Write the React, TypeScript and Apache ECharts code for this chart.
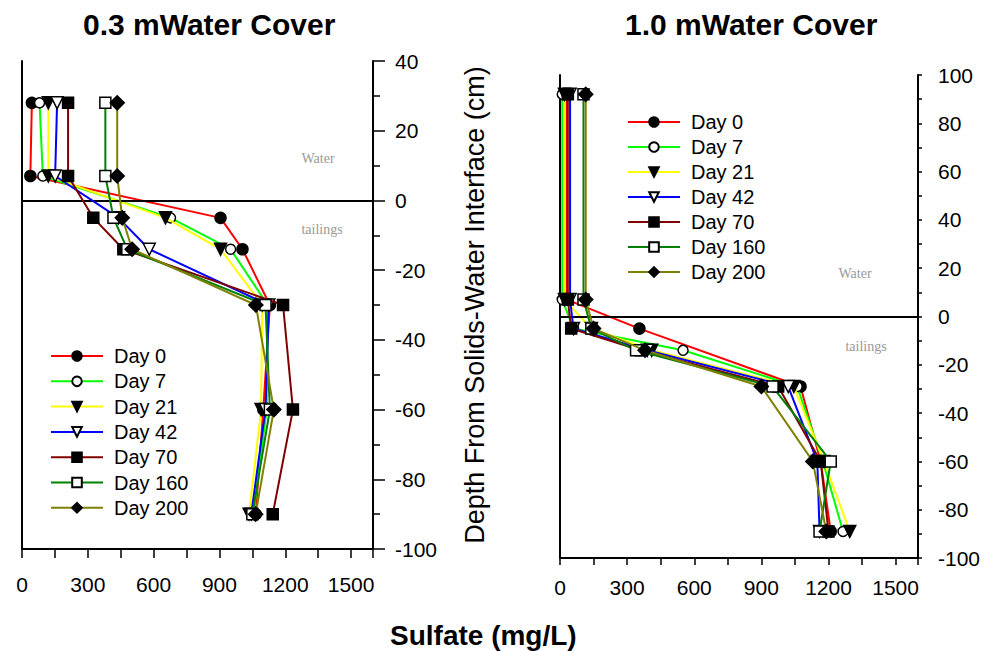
import React, { useEffect, useRef } from "react";
import * as echarts from "echarts";

const DAYS = ["Day 0", "Day 7", "Day 21", "Day 42", "Day 70", "Day 160", "Day 200"];
const COLORS = ["#ff0000", "#00ff00", "#ffff00", "#0000ff", "#800000", "#008000", "#808000"];
const SHAPES = ["circle", "circle", "triangle", "triangle", "rect", "rect", "diamond"];
const FILLED = [true, false, true, false, true, false, true];
const ROTATE = [0, 0, 180, 180, 0, 0, 0];
const SIZES = [11, 10, 12, 12, 11, 11, 14];

// 0.3 m water cover: depth (cm) and sulfate (mg/L)
const LEFT_DEPTHS = [28, 7, -5, -14, -30, -60, -90];
const LEFT_DAY0 = [45, 38, 905, 1005, 1130, 1100, 1065];
const LEFT_DAY7 = [80, 95, 677, 951, 1120, 1115, 1055];
const LEFT_DAY21 = [120, 120, 654, 905, 1095, 1090, 1035];
const LEFT_DAY42 = [160, 151, 440, 580, 1125, 1110, 1045];
const LEFT_DAY70 = [210, 210, 325, 462, 1190, 1235, 1143];
const LEFT_DAY160 = [380, 380, 417, 480, 1110, 1130, 1050];
const LEFT_DAY200 = [434, 434, 457, 502, 1066, 1148, 1065];

// 1.0 m water cover
const RIGHT_DEPTHS = [92, 7, -5, -14, -29, -60, -89];
const RIGHT_DAY0 = [30, 30, 355, null, 1075, 1165, 1210];
const RIGHT_DAY7 = [10, 10, 60, 550, 1060, 1175, 1265];
const RIGHT_DAY21 = [20, 20, 140, 410, 1045, 1180, 1295];
const RIGHT_DAY42 = [45, 45, 60, 390, 1020, 1150, 1160];
const RIGHT_DAY70 = [35, 35, 50, 360, 975, 1165, 1200];
const RIGHT_DAY160 = [105, 105, 140, 340, 950, 1210, 1160];
const RIGHT_DAY200 = [115, 115, 150, 380, 900, 1130, 1190];

const LEFT_VALUES = [LEFT_DAY0, LEFT_DAY7, LEFT_DAY21, LEFT_DAY42, LEFT_DAY70, LEFT_DAY160, LEFT_DAY200];
const RIGHT_VALUES = [RIGHT_DAY0, RIGHT_DAY7, RIGHT_DAY21, RIGHT_DAY42, RIGHT_DAY70, RIGHT_DAY160, RIGHT_DAY200];

const X_LABELS = [0, 300, 600, 900, 1200, 1500];

const FONT = "Arial, 'Liberation Sans', Helvetica, sans-serif";

function pairs(values: (number | null)[], depths: number[]) {
  const out: number[][] = [];
  values.forEach((v, i) => {
    if (v !== null && v !== undefined) out.push([v, depths[i]]);
  });
  return out;
}

function makeSeries(values: (number | null)[][], depths: number[], xIdx: number, yIdx: number) {
  return values.map((vals, i) => {
    const s: any = {
      type: "line",
      name: DAYS[i],
      xAxisIndex: xIdx,
      yAxisIndex: yIdx,
      data: pairs(vals, depths),
      symbol: SHAPES[i],
      symbolSize: SIZES[i],
      symbolRotate: ROTATE[i],
      showAllSymbol: true,
      lineStyle: { color: COLORS[i], width: 2 },
      itemStyle: {
        color: FILLED[i] ? "#000000" : "#ffffff",
        borderColor: "#000000",
        borderWidth: 1.5,
      },
      emphasis: { disabled: true },
      z: 2 + i,
    };
    if (i === 0) {
      s.markLine = {
        silent: true,
        symbol: "none",
        label: { show: false },
        lineStyle: { color: "#000000", width: 2, type: "solid" },
        data: [{ yAxis: 0 }],
      };
    }
    return s;
  });
}

function xAxis(gridIndex: number, margin: number, tickLen: number) {
  return {
    type: "value",
    gridIndex,
    min: 0,
    max: 1600,
    interval: 150,
    axisLine: { show: true, onZero: false, lineStyle: { color: "#000", width: 2 } },
    axisTick: { show: true, length: tickLen, lineStyle: { color: "#000", width: 1.5 } },
    axisLabel: {
      margin,
      fontSize: 21,
      color: "#000",
      fontFamily: FONT,
      formatter: (v: number) => (X_LABELS.indexOf(v) >= 0 ? String(v) : ""),
    },
    splitLine: { show: false },
  };
}

function leftLine(gridIndex: number, min: number, max: number) {
  return {
    type: "value",
    gridIndex,
    position: "left",
    min,
    max,
    axisLine: { show: true, onZero: false, lineStyle: { color: "#000", width: 2 } },
    axisTick: { show: false },
    axisLabel: { show: false },
    splitLine: { show: false },
  };
}

export default function App() {
  const ref = useRef<HTMLDivElement>(null);
  useEffect(() => {
    if (!ref.current) return;
    const chart = echarts.init(ref.current, null, { renderer: "svg" });
    const option: any = {
      animation: false,
      backgroundColor: "#ffffff",
      textStyle: { fontFamily: FONT },
      title: [
        {
          text: "0.3 mWater Cover",
          left: 78,
          top: 4,
          textStyle: { fontSize: 30, fontWeight: "bold", color: "#000", fontFamily: FONT },
        },
        {
          text: "1.0 mWater Cover",
          left: 620,
          top: 4,
          textStyle: { fontSize: 30, fontWeight: "bold", color: "#000", fontFamily: FONT },
        },
        {
          text: "Sulfate (mg/L)",
          left: 385,
          top: 616,
          textStyle: { fontSize: 28, fontWeight: "bold", color: "#000", fontFamily: FONT },
        },
      ],
      legend: [
        {
          data: DAYS,
          orient: "vertical",
          left: 45,
          top: 341,
          itemWidth: 52,
          itemHeight: 12,
          itemGap: 5.3,
          selectedMode: false,
          textStyle: { fontSize: 20, color: "#000", fontFamily: FONT, padding: [0, 0, 0, 6] },
        },
        {
          data: DAYS,
          orient: "vertical",
          left: 622,
          top: 107,
          itemWidth: 52,
          itemHeight: 12,
          itemGap: 5,
          selectedMode: false,
          textStyle: { fontSize: 20, color: "#000", fontFamily: FONT, padding: [0, 0, 0, 6] },
        },
      ],
      grid: [
        { left: 22, top: 61, width: 351, height: 488, containLabel: false },
        { left: 560, top: 75, width: 358, height: 483, containLabel: false },
      ],
      xAxis: [xAxis(0, 25, 9), xAxis(1, 19, 7)],
      yAxis: [
        leftLine(0, -100, 40),
        {
          type: "value",
          gridIndex: 0,
          position: "right",
          min: -100,
          max: 40,
          interval: 20,
          axisLine: { show: true, onZero: false, lineStyle: { color: "#000", width: 2 } },
          axisTick: { show: true, length: 12, lineStyle: { color: "#000", width: 1.5 } },
          minorTick: { show: true, splitNumber: 2, length: 7, lineStyle: { color: "#000", width: 1.5 } },
          axisLabel: { margin: 22, fontSize: 21, color: "#000", fontFamily: FONT },
          splitLine: { show: false },
          minorSplitLine: { show: false },
          name: "Depth From Solids-Water Interface (cm)",
          nameLocation: "middle",
          nameRotate: 90,
          nameGap: 88,
          nameTextStyle: { fontSize: 27, color: "#000", fontFamily: FONT },
        },
        leftLine(1, -100, 100),
        {
          type: "value",
          gridIndex: 1,
          position: "right",
          min: -100,
          max: 100,
          interval: 20,
          axisLine: { show: true, onZero: false, lineStyle: { color: "#000", width: 2 } },
          axisTick: { show: true, length: 4, lineStyle: { color: "#000", width: 1.5 } },
          minorTick: { show: true, splitNumber: 2, length: 4, lineStyle: { color: "#000", width: 1.5 } },
          axisLabel: { margin: 20, fontSize: 21, color: "#000", fontFamily: FONT },
          splitLine: { show: false },
          minorSplitLine: { show: false },
        },
      ],
      graphic: [
        { type: "text", x: 318, y: 158, style: { text: "Water", fill: "#999", font: "14px 'Liberation Serif', serif", textAlign: "center", textVerticalAlign: "middle" } },
        { type: "text", x: 322, y: 229, style: { text: "tailings", fill: "#999", font: "14px 'Liberation Serif', serif", textAlign: "center", textVerticalAlign: "middle" } },
        { type: "text", x: 855, y: 273, style: { text: "Water", fill: "#999", font: "14px 'Liberation Serif', serif", textAlign: "center", textVerticalAlign: "middle" } },
        { type: "text", x: 866, y: 346, style: { text: "tailings", fill: "#999", font: "14px 'Liberation Serif', serif", textAlign: "center", textVerticalAlign: "middle" } },
      ],
      series: [
        ...makeSeries(LEFT_VALUES, LEFT_DEPTHS, 0, 1),
        ...makeSeries(RIGHT_VALUES, RIGHT_DEPTHS, 1, 3),
      ],
    };
    chart.setOption(option);
    return () => chart.dispose();
  }, []);
  return (
    <div
      ref={ref}
      style={{ position: "absolute", left: 0, top: 0, width: 990, height: 651, background: "#fff" }}
    />
  );
}
